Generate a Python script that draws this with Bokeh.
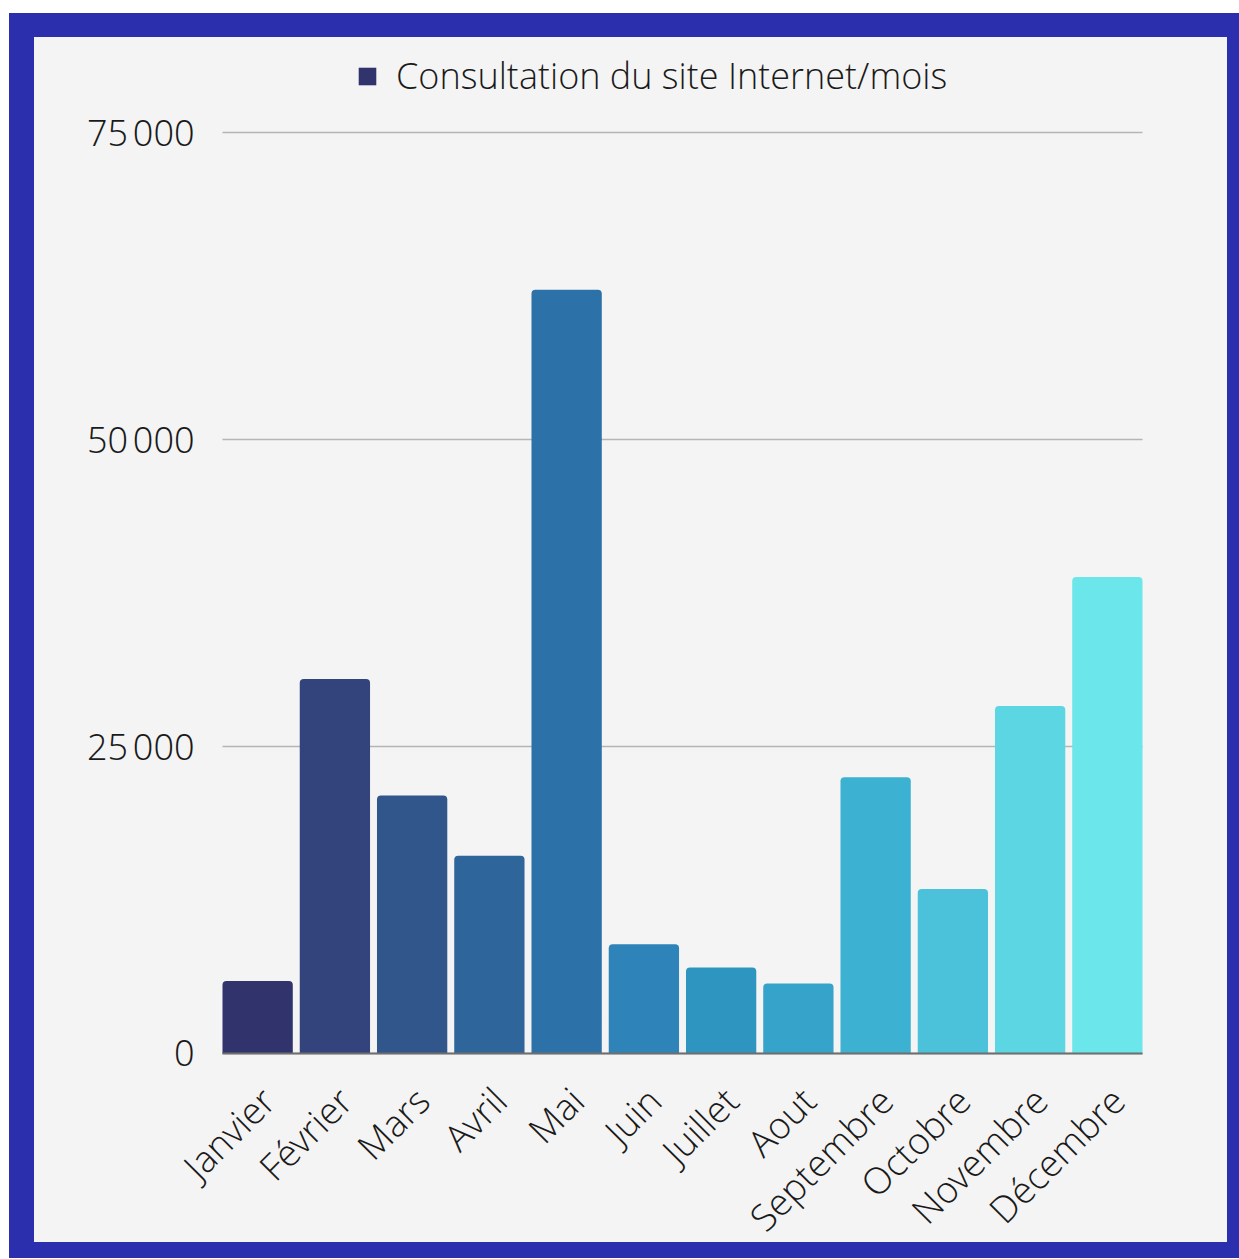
from math import pi
from bokeh.plotting import figure
from bokeh.models import ColumnDataSource, Range1d, Legend, LegendItem
from bokeh.core.properties import value
from bokeh.embed import file_html
from bokeh.resources import INLINE

months = ["Janvier", "Février", "Mars", "Avril", "Mai", "Juin", "Juillet",
          "Aout", "Septembre", "Octobre", "Novembre", "Décembre"]
visits = [5900, 30500, 21000, 16100, 62200, 8900, 7000, 5700, 22500, 13400, 28300, 38800]
colors = ["#31346C", "#33447D", "#30568C", "#2E659B", "#2C72A8", "#2E84B8",
          "#2E95C0", "#36A3CA", "#3DB1D1", "#4BC2DA", "#5BD6E2", "#6BE6EA"]
tick_values = [0, 25000, 50000, 75000]
tick_labels = ["0", "25\u202f000", "50\u202f000", "75\u202f000"]
series_name = "Consultation du site Internet/mois"

FONT = "Open Sans Light, Open Sans"
BAR_W = 0.91
X_START, X_END = -2.552, 12.555   # room left of the bars for the value labels
Y_START, Y_END = -15228, 82736    # room for month labels below and legend above

n = len(months)
pos = list(range(n))  # one slot per month
left_edge = -BAR_W / 2
right_edge = (n - 1) + BAR_W / 2

src = ColumnDataSource(dict(pos=pos, month=months, visits=visits, color=colors,
                            base=[0] * n))
grid_src = ColumnDataSource(dict(y=tick_values, label=tick_labels,
                                 x0=[left_edge] * len(tick_values),
                                 x1=[right_edge] * len(tick_values)))

# The host box (with its CSS frame) is 1230x1245; the canvas inside is clipped to
# the content box, so the right / bottom borders account for the hidden part.
p = figure(width=1230, height=1245, output_backend="svg", toolbar_location=None,
           x_range=Range1d(X_START, X_END), y_range=Range1d(Y_START, Y_END),
           min_border_left=26, min_border_right=37, min_border_top=0, min_border_bottom=42)
p.styles = {"border-style": "solid", "border-color": "#2B2FAE",
            "border-width": "24px 12px 16px 25px", "margin-top": "13px", "margin-left": "9px",
            "background-color": "#F4F4F4"}
p.background_fill_color = "#F4F4F4"
p.border_fill_color = "#F4F4F4"
p.outline_line_color = None
p.xaxis.visible = False
p.yaxis.visible = False
p.xgrid.visible = False
p.ygrid.visible = False

# horizontal grid lines (behind the bars)
p.segment(x0="x0", x1="x1", y0="y", y1="y", source=grid_src,
          line_color="#B5B5B5", line_width=1.5)

r = p.vbar(x="pos", top="visits", bottom="base", width=BAR_W, source=src,
           fill_color="color", line_color=None, border_radius=(4, 4, 0, 0))

# baseline at 0
p.segment(x0=[left_edge], x1=[right_edge], y0=[0], y1=[0],
          line_color="#6E6E6E", line_width=2)

# value-axis labels
p.text(x="x0", y="y", text="label", source=grid_src, x_offset=-28,
       text_align="right", text_baseline="middle",
       text_font=value(FONT), text_font_size="36px", text_color="#1A1A1A")

# month labels
p.text(x="pos", y="base", text="month", source=src, angle=pi / 4,
       text_align="right", text_baseline="middle", x_offset=10, y_offset=40,
       text_font=value(FONT), text_font_size="37px", text_color="#1A1A1A")

legend = Legend(items=[LegendItem(label=series_name, renderers=[r], index=0)],
                location=(296, 1140), orientation="horizontal",
                glyph_width=22, glyph_height=22, label_standoff=18,
                padding=0, margin=0, border_line_color=None, background_fill_alpha=0,
                label_text_font=FONT, label_text_font_size="36px",
                label_text_color="#1A1A1A")
p.add_layout(legend)

open("out.html", "w").write(file_html(p, INLINE))
